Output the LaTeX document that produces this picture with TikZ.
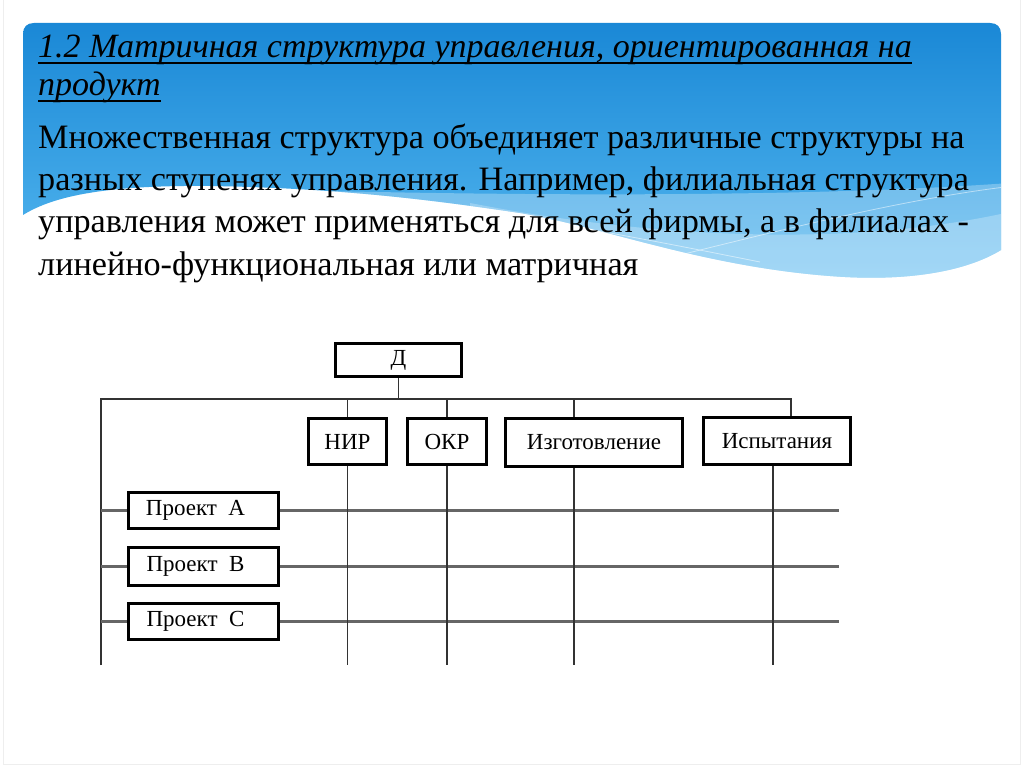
\documentclass[tikz,border=0pt]{standalone}
\usepackage{fontspec}
\setmainfont{Liberation Serif}
\definecolor{bluetop}{HTML}{1A88D6}
\definecolor{bluebot}{HTML}{55B8F0}
\definecolor{edgegray}{HTML}{EEEEEE}
\tikzset{
  box/.style={draw=black, line width=3.5pt, fill=white, inner sep=0pt,
              font=\fontsize{23}{27}\selectfont},
  thin/.style={draw=black!80, line width=1.3pt},
  row/.style={draw=black!60, line width=2.2pt},
  body/.style={anchor=base west, inner sep=0pt, font=\fontsize{34.2}{40}\selectfont},
  title/.style={anchor=base west, inner sep=0pt, font=\fontsize{34}{40}\selectfont\itshape}
}
\begin{document}
\begin{tikzpicture}[x=1pt,y=-1pt]
\useasboundingbox (0,0) rectangle (1024,767);
\fill[white] (0,0) rectangle (1024,767);
\draw[edgegray, line width=1pt] (3,-2) -- (3,764) -- (1020,764) -- (1020,-2);
% blue header with wave
\shade[top color=bluetop, bottom color=bluebot] (23,215) -- (23,34) .. controls (23,27) and (27,23) .. (34,23) -- (990,23) .. controls (997,23) and (1001,27) .. (1001,34) -- (1001,250)
  .. controls (965,272) and (905,282) .. (830,276)
  .. controls (700,266) and (600,226) .. (520,213)
  .. controls (420,198) and (330,188) .. (210,186)
  .. controls (110,185) and (55,195) .. (23,215) -- cycle;
\begin{scope}
  \clip (23,215) -- (23,34) .. controls (23,27) and (27,23) .. (34,23) -- (990,23) .. controls (997,23) and (1001,27) .. (1001,34) -- (1001,250)
  .. controls (965,272) and (905,282) .. (830,276)
  .. controls (700,266) and (600,226) .. (520,213)
  .. controls (420,198) and (330,188) .. (210,186)
  .. controls (110,185) and (55,195) .. (23,215) -- cycle;
  \fill[white, opacity=0.28] (250,189) .. controls (500,196) and (800,198) .. (1010,183) -- (1010,300) -- (250,300) -- cycle;
  \fill[white, opacity=0.25] (470,203) .. controls (650,238) and (850,248) .. (1010,212) -- (1010,300) -- (470,300) -- cycle;
  \draw[white, opacity=0.5, line width=0.8pt] (330,192) .. controls (500,210) and (650,240) .. (760,262);
  \draw[white, opacity=0.5, line width=0.8pt] (640,265) .. controls (780,230) and (900,200) .. (1005,187);
\end{scope}
% title
\node[title] (t1) at (38,58) {1.2 Матричная структура управления, ориентированная на};
\node[title] (t2) at (38,96) {продукт};
\draw[line width=1.6pt] ([yshift=-5]t1.base west) -- ([yshift=-5]t1.base east);
\draw[line width=1.6pt] ([yshift=-5]t2.base west) -- ([yshift=-5]t2.base east);
% body
\node[body] (b1) at (38,149) {Множественная структура объединяет различные структуры на};
\node[body] (b2) at (38,191) {разных ступенях управления. Например, филиальная структура};
\node[body] (b3) at (38,233) {управления может применяться для всей фирмы, а в филиалах -};
\node[body] (b4) at (38,275) {линейно-функциональная или матричная};
% diagram coordinates
\coordinate (busL) at (101,399);
\coordinate (botL) at (101,665);
% boxes
\node[box, minimum width=126, minimum height=33] (d) at (398.5,360) {Д};
\node[box, minimum width=78, minimum height=46] (nir) at (347.5,441.5) {НИР};
\node[box, minimum width=79, minimum height=46] (okr) at (447,441.5) {ОКР};
\node[box, minimum width=177, minimum height=48] (izg) at (594,442.5) {Изготовление};
\node[box, minimum width=147, minimum height=47] (isp) at (777,441) {Испытания};
\node[box, minimum width=150, minimum height=36] (pa) at (203.5,510.5) {\hspace*{-16pt}Проект\ \ A};
\node[box, minimum width=150, minimum height=38] (pb) at (203.5,566.5) {\hspace*{-16pt}Проект\ \ B};
\node[box, minimum width=150, minimum height=36] (pc) at (203.5,621.5) {\hspace*{-16pt}Проект\ \ C};
\coordinate (rowE) at (839,0);
% connectors
\draw[thin] (d.south) -- (d.south |- busL);
\draw[thin] (botL) -- (busL) -- ([xshift=14]isp.north |- busL) -- ([xshift=14]isp.north);
\draw[thin] (nir.north |- busL) -- (nir.north);
\draw[thin] (okr.north |- busL) -- (okr.north);
\draw[thin] ([xshift=-20]izg.north |- busL) -- ([xshift=-20]izg.north);
% rows
\foreach \p in {pa,pb,pc}{
  \draw[row] (\p.west -| busL) -- (\p.west);
  \draw[row] (\p.east) -- (\p.east -| rowE);
}
% verticals
\draw[thin] (nir.south) -- (nir.south |- botL);
\draw[thin] (okr.south) -- (okr.south |- botL);
\draw[thin] ([xshift=-20]izg.south) -- ([xshift=-20]izg.south |- botL);
\draw[thin] ([xshift=-4]isp.south) -- ([xshift=-4]isp.south |- botL);
\end{tikzpicture}
\end{document}
